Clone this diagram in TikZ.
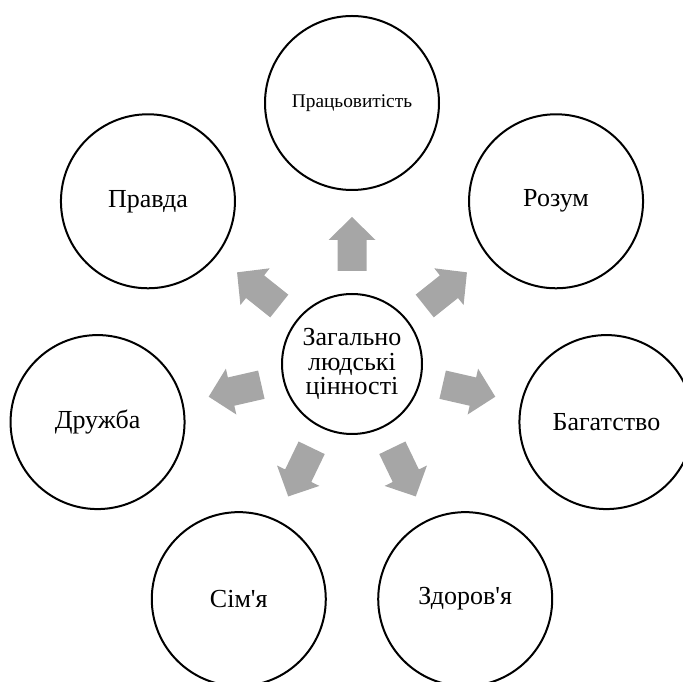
\documentclass[tikz,border=0pt]{standalone}
\usepackage{fontspec}
\setmainfont{Liberation Serif}
\begin{document}
\begin{tikzpicture}[
  x=0.75pt, y=0.75pt,
  every node/.style={align=center, inner sep=0pt, font=\fontsize{19.5}{18.4}\selectfont},
  kolo/.style={draw, circle, line width=1.5pt, minimum size=130.5pt},
  tsentr/.style={kolo, minimum size=105pt},
  strilka/.style={fill=black!35}
]
\clip (0,0) rectangle (683,682);
\coordinate (c) at (352,318);
\node[tsentr] (cinnosti) at (c) {Загально\\людські\\цінності};
\node[kolo, font=\fontsize{14.5}{17}\selectfont] (pratsia) at ([shift={(90:261)}]c) {Працьовитість};
\node[kolo] (rozum)    at ([shift={(38.57:261)}]c)  {Розум};
\node[kolo] (bagatstvo) at ([shift={(-12.86:261)}]c) {Багатство};
\node[kolo] (zdorovia) at ([shift={(-64.29:261)}]c) {Здоров\textquotesingle я};
\node[kolo] (simia)    at ([shift={(-115.71:261)}]c) {Сім\textquotesingle я};
\node[kolo] (druzhba)  at ([shift={(-167.14:261)}]c) {Дружба};
\node[kolo] (pravda)   at ([shift={(141.43:261)}]c) {Правда};
% сірі стрілки від центру
\foreach \a in {90,38.57,-12.86,-64.29,-115.71,-167.14,141.43}
  \fill[strilka, shift={(c)}, rotate=\a]
    (93,-14.5) -- (124,-14.5) -- (124,-23.5) -- (147,0)
    -- (124,23.5) -- (124,14.5) -- (93,14.5) -- cycle;
\end{tikzpicture}
\end{document}
